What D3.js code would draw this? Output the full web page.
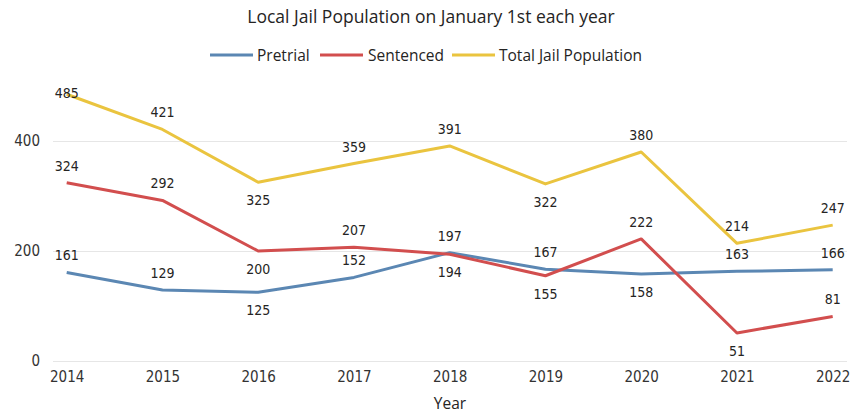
<!DOCTYPE html>
<html>
<head>
<meta charset="utf-8">
<script src="https://cdn.jsdelivr.net/npm/d3@7"></script>
<style>
  body { margin: 0; background: #fff; }
</style>
</head>
<body>
<script>
const width = 855;
const height = 413;

const years = [2014, 2015, 2016, 2017, 2018, 2019, 2020, 2021, 2022];
const pretrial = [161, 129, 125, 152, 197, 167, 158, 163, 166];
const sentenced = [324, 292, 200, 207, 194, 155, 222, 51, 81];
const totalJail = [485, 421, 325, 359, 391, 322, 380, 214, 247];
const yTicks = [0, 200, 400];

// which side of the point each data label sits on (1 = below)
const pretrialBelow = [0, 0, 1, 0, 0, 0, 1, 0, 0];
const sentencedBelow = [0, 0, 1, 0, 1, 1, 0, 1, 0];
const totalBelow = [0, 0, 1, 0, 0, 1, 0, 0, 0];

const series = [
  { name: "Pretrial", values: pretrial, below: pretrialBelow, color: "#5B87B3" },
  { name: "Sentenced", values: sentenced, below: sentencedBelow, color: "#D24E4E" },
  { name: "Total Jail Population", values: totalJail, below: totalBelow, color: "#EAC43F" }
];

const labelFont = "'DejaVu Sans Condensed', 'DejaVu Sans', sans-serif";
const uiFont = "'Segoe UI', 'Open Sans', 'Noto Sans', sans-serif";

const scale = {
  x: d3.scaleLinear().domain([2014, 2022]).range([66.7, 832.7]),
  y: d3.scaleLinear().domain([0, 400]).range([361, 141])
};

const svg = d3.select("body")
  .append("svg")
  .attr("width", width)
  .attr("height", height);

appendLabels(svg);
appendGrid(svg);
appendTicks(svg);
appendLines(svg);
appendLegend(svg);

function appendLabels(svg) {
  // Title
  svg.append("text")
    .attr("x", 431)
    .attr("y", 23)
    .attr("text-anchor", "middle")
    .style("font-family", uiFont)
    .style("font-size", "17.5px")
    .style("fill", "#252423")
    .text("Local Jail Population on January 1st each year");

  // X label
  svg.append("text")
    .attr("x", 450)
    .attr("y", 409)
    .attr("text-anchor", "middle")
    .style("font-family", uiFont)
    .style("font-size", "15.5px")
    .style("fill", "#252423")
    .text("Year");
}

function appendGrid(svg) {
  svg.append("g")
    .attr("class", "grid")
    .attr("transform", "translate(53,0)")
    .attr("color", "#e6e6e6")
    .call(d3.axisLeft(scale.y)
      .tickValues(yTicks)
      .tickSize(-794)
      .tickFormat(""))
    .call(g => g.select(".domain").remove());
}

function appendTicks(svg) {
  const yAxis = svg.append("g")
    .attr("transform", "translate(40,0)")
    .call(d3.axisLeft(scale.y).tickValues(yTicks).tickSize(0).tickPadding(0));
  yAxis.select(".domain").remove();

  const xAxis = svg.append("g")
    .attr("transform", "translate(0,367)")
    .call(d3.axisBottom(scale.x).tickValues(years).tickFormat(d3.format("d")).tickSize(0).tickPadding(4));
  xAxis.select(".domain").remove();

  svg.selectAll(".tick text")
    .style("font-family", labelFont)
    .style("font-size", "15px")
    .style("fill", "#333");
}

function appendLines(svg) {
  const line = d3.line()
    .x((d, i) => scale.x(years[i]))
    .y(d => scale.y(d));

  series.forEach(s => {
    svg.append("path")
      .datum(s.values)
      .attr("fill", "none")
      .attr("stroke", s.color)
      .attr("stroke-width", 3)
      .attr("stroke-linejoin", "round")
      .attr("d", line);
  });

  series.forEach(s => {
    svg.append("g")
      .selectAll("text")
      .data(s.values)
      .enter()
      .append("text")
      .attr("x", (d, i) => scale.x(years[i]))
      .attr("y", (d, i) => {
        const py = scale.y(d);
        const cy = s.below[i] ? py + 18 : Math.max(py - 17, 92.5);
        return cy + 5;
      })
      .attr("text-anchor", "middle")
      .style("font-family", labelFont)
      .style("font-size", "14px")
      .style("fill", "#252423")
      .text(d => d);
  });
}

function appendLegend(svg) {
  const items = [
    { x: 210, tx: 257 },
    { x: 320, tx: 368 },
    { x: 452, tx: 499 }
  ];

  const legend = svg.append("g").attr("transform", "translate(0,55)");

  const entries = legend.selectAll("g")
    .data(series)
    .enter()
    .append("g")
    .attr("transform", (d, i) => `translate(${items[i].x},0)`);

  entries.append("line")
    .attr("x1", 0)
    .attr("x2", 43)
    .attr("stroke", d => d.color)
    .attr("stroke-width", 3);

  entries.append("text")
    .attr("x", (d, i) => items[i].tx - items[i].x)
    .attr("y", 5.5)
    .style("font-family", uiFont)
    .style("font-size", "15.5px")
    .style("fill", "#252423")
    .text(d => d.name);
}
</script>
</body>
</html>
